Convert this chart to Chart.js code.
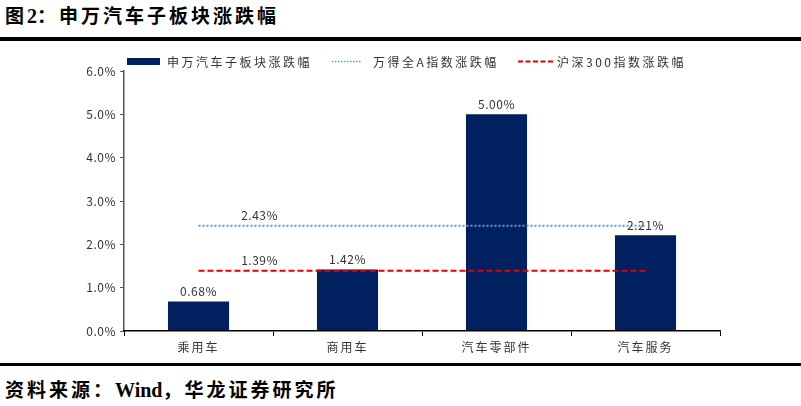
<!DOCTYPE html>
<html>
<head>
<meta charset="utf-8">
<script src="https://cdn.jsdelivr.net/npm/chart.js@4.4.0/dist/chart.umd.min.js"></script>
<style>
  html, body { margin: 0; padding: 0; background: #fff; }
  body { width: 801px; height: 406px; position: relative; overflow: hidden; font-family: "Noto Sans CJK SC", sans-serif; }
  .title { position: absolute; left: 5px; top: 1px; font-size: 19px; line-height: 28px; font-weight: bold; letter-spacing: 3px; color: #000; }
  .title .num { font-family: "Liberation Serif", serif; letter-spacing: 0; font-size: 20px; }
  .rule { position: absolute; left: 0; width: 801px; background: #000; }
  .source { position: absolute; left: 5px; top: 375px; font-size: 19px; line-height: 28px; font-weight: bold; color: #000; letter-spacing: 3px; }
  .source .en { font-family: "Liberation Serif", serif; letter-spacing: 0; font-size: 20px; }
  #wrap { position: absolute; left: 0; top: 45px; width: 801px; height: 315px; }
</style>
</head>
<body>
<div class="title">图<span class="num">2</span>：申万汽车子板块涨跌幅</div>
<div class="rule" style="top:37px;height:4px"></div>
<div id="wrap"><canvas id="chart"></canvas></div>
<div class="rule" style="top:363px;height:3px"></div>
<div class="source">资料来源：<span class="en">Wind</span>，华龙证券研究所</div>
<script>
const categories = ["乘用车", "商用车", "汽车零部件", "汽车服务"];
const sectorChange = [0.68, 1.42, 5.00, 2.21];
const windAChange = [2.43, 2.43, 2.43, 2.43];
const hs300Change = [1.39, 1.39, 1.39, 1.39];
const yTicks = [0, 1, 2, 3, 4, 5, 6];

const fontFamily = '"Noto Sans CJK SC", sans-serif';
const textColor = "#333";
const barColor = "#002060";
const windColor = "#5B9BD5";
const hsColor = "#E00000";

// === value labels on bars and index lines ===
const valueLabels = {
  id: "valueLabels",
  beforeDraw(chart) {
    chart.ctx.letterSpacing = "0.5px";
  },
  afterDatasetsDraw(chart) {
    const ctx = chart.ctx;
    const x = chart.scales.x;
    const y = chart.scales.y;
    ctx.save();
    ctx.font = "12px " + fontFamily;
    ctx.fillStyle = textColor;
    ctx.textAlign = "center";
    ctx.textBaseline = "bottom";
    chart.getDatasetMeta(0).data.forEach((bar, i) => {
      ctx.fillText(sectorChange[i].toFixed(2) + "%", bar.x, bar.y - 4);
    });
    // line labels sit a bit to the right of the first point
    const lx = x.getPixelForValue(0) + (x.getPixelForValue(1) - x.getPixelForValue(0)) * 0.41;
    ctx.fillText(windAChange[0].toFixed(2) + "%", lx, y.getPixelForValue(windAChange[0]) - 4);
    ctx.fillText(hs300Change[0].toFixed(2) + "%", lx, y.getPixelForValue(hs300Change[0]) - 4);
    ctx.restore();
    // x axis labels (ticks.z: 1, drawn after this) get wider spacing
    ctx.letterSpacing = "2px";
  },
  afterDraw(chart) {
    const ctx = chart.ctx;
    const left = chart.chartArea.left;
    const cy = 16;
    ctx.save();
    ctx.letterSpacing = "2.5px";
    ctx.font = "12px " + fontFamily;
    ctx.textAlign = "left";
    ctx.textBaseline = "middle";
    // bar swatch
    ctx.fillStyle = barColor;
    ctx.fillRect(left + 3, cy - 3, 33, 7);
    // dotted line swatch
    ctx.lineWidth = 1.5;
    ctx.strokeStyle = windColor;
    ctx.setLineDash([1.5, 1.5]);
    ctx.beginPath(); ctx.moveTo(left + 208, cy + 0.5); ctx.lineTo(left + 238, cy + 0.5); ctx.stroke();
    // dashed line swatch
    ctx.lineWidth = 2;
    ctx.strokeStyle = hsColor;
    ctx.setLineDash([5, 2.5]);
    ctx.beginPath(); ctx.moveTo(left + 394, cy + 0.5); ctx.lineTo(left + 430, cy + 0.5); ctx.stroke();
    ctx.fillStyle = textColor;
    const ds = chart.data.datasets;
    ctx.fillText(ds[0].label, left + 43, cy + 1);
    ctx.fillText(ds[1].label, left + 249, cy + 1);
    ctx.fillText(ds[2].label, left + 433, cy + 1);
    ctx.restore();
    ctx.letterSpacing = "0px";
  }
};

document.addEventListener("DOMContentLoaded", () => {
  const ctx = document.getElementById("chart");

  new Chart(ctx, {
    type: "bar",
    data: {
      labels: categories,
      datasets: [
        {
          type: "bar",
          label: "申万汽车子板块涨跌幅",
          data: sectorChange,
          backgroundColor: barColor,
          barPercentage: 0.41,
          categoryPercentage: 1,
          order: 2
        },
        {
          type: "line",
          label: "万得全A指数涨跌幅",
          data: windAChange,
          borderColor: windColor,
          borderWidth: 2,
          borderDash: [2, 2],
          pointRadius: 0,
          fill: false,
          order: 1
        },
        {
          type: "line",
          label: "沪深300指数涨跌幅",
          data: hs300Change,
          borderColor: hsColor,
          borderWidth: 2,
          borderDash: [6, 3],
          pointRadius: 0,
          fill: false,
          order: 0
        }
      ]
    },
    options: {
      responsive: true,
      maintainAspectRatio: false,
      animation: false,
      layout: { padding: { left: 0, right: 81, top: 26, bottom: 0 } },
      plugins: {
        tooltip: { enabled: false },
        legend: { display: false }
      },
      scales: {
        x: {
          grid: { display: true, drawOnChartArea: false, drawTicks: true, tickLength: 5, color: "#000", offset: true, z: 1 },
          border: { display: true, color: "#000", width: 1.5, z: 1 },
          ticks: { color: textColor, font: { family: fontFamily, size: 12 }, padding: 4, z: 1 },
          afterFit(scale) { scale.height = 29; }
        },
        y: {
          min: 0,
          max: 6,
          afterBuildTicks(scale) { scale.ticks = yTicks.map(v => ({ value: v })); },
          grid: { display: true, drawOnChartArea: false, drawTicks: true, tickLength: 4, color: "#555" },
          border: { display: true, color: "#555", width: 1.5 },
          ticks: {
            color: textColor,
            font: { family: fontFamily, size: 12 },
            padding: 4,
            callback: v => v.toFixed(1) + "%"
          },
          afterFit(scale) { scale.width = 124; }
        }
      }
    },
    plugins: [valueLabels]
  });
});
</script>
</body>
</html>
